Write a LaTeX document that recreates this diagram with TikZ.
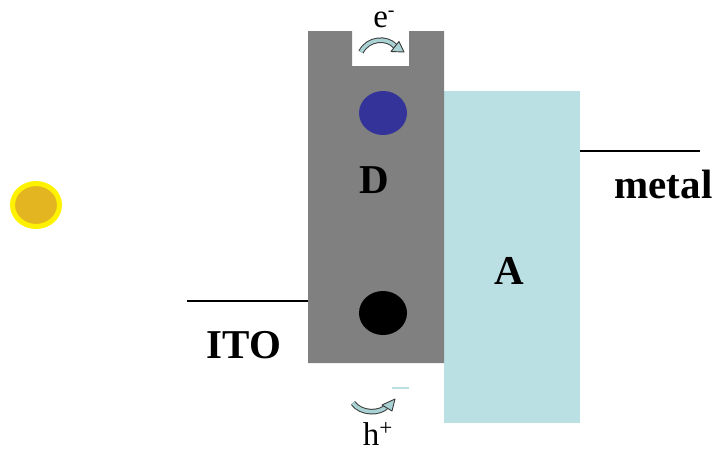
\documentclass[tikz,border=0pt]{standalone}
\usepackage{fontspec}
\setmainfont{Liberation Serif}
\definecolor{dgray}{HTML}{808080}
\definecolor{lblue}{HTML}{BBE0E3}
\definecolor{dblue}{HTML}{333399}
\definecolor{gold}{HTML}{E3B520}
\definecolor{arrfill}{HTML}{A9D2D4}
\definecolor{arrline}{HTML}{3A3A3A}
\begin{document}
\begin{tikzpicture}[x=1pt,y=-1pt,
  big/.style={font=\fontsize{41}{41}\selectfont\bfseries, inner sep=0pt, anchor=base},
  small/.style={font=\fontsize{33}{33}\selectfont, inner sep=0pt, anchor=base},
  level/.style={line width=1.6pt, black},
  bandarrow/.style={draw=arrline, line width=1pt, double=arrfill, double distance=3.6pt}]
\useasboundingbox (0,0) rectangle (718,451);
% acceptor
\fill[lblue] (444,91) rectangle (580,423);
% donor with notch
\fill[dgray] (308,31) -- (352,31) -- (352,66) -- (409,66) -- (409,31) -- (444,31) -- (444,363) -- (308,363) -- cycle;
% circles
\fill[dblue] (383,113) ellipse [x radius=24, y radius=22];
\fill[black] (383,313) ellipse [x radius=24, y radius=22];
\draw[yellow, line width=5pt, fill=gold] (36,205) ellipse [x radius=23.5, y radius=21.5];
% energy levels
\coordinate (m1) at (580,151);
\coordinate (m2) at (700,151);
\coordinate (i1) at (187,301);
\coordinate (i2) at (308,301);
\draw[level] (m1) -- (m2);
\draw[level] (i1) -- (i2);
% labels
\node[big] (D) at (374.5,193) {D};
\node[big] (A) at (509,284) {A};
\node[big] (metal) at (663.5,198) {metal};
\node[big] (ITO) at (244,358) {ITO};
\node[small, text height=18pt, text depth=0pt] (e) at (384,27) {e\raisebox{11pt}{\fontsize{20}{20}\selectfont -}};
\node[small, text depth=0pt] (h) at (378,445) {h\textsuperscript{+}};
% top curved arrow
\draw[bandarrow] (361,52) .. controls (368,38) and (387,37) .. (395,46);
\filldraw[draw=arrline, fill=arrfill, line width=0.9pt, line join=round] (399,41.5) -- (404,52) -- (391,51.5) -- cycle;
% bottom curved arrow
\draw[bandarrow] (353,403) .. controls (361,414) and (380,414) .. (387,406);
\filldraw[draw=arrline, fill=arrfill, line width=0.9pt, line join=round] (382,405) -- (395,399) -- (392,411) -- cycle;
\draw[lblue, line width=1.5pt] (392,388) -- (409,388);
\end{tikzpicture}
\end{document}
